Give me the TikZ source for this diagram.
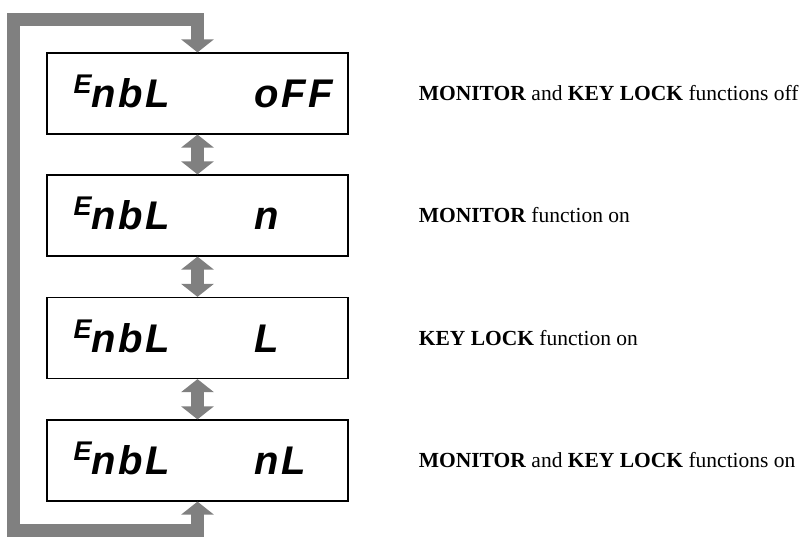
\documentclass[tikz,border=0pt]{standalone}
\usepackage{fontspec}
\setmainfont{Liberation Serif}
\newfontfamily\lcdfont[LetterSpace=6]{Liberation Sans}
\usetikzlibrary{arrows.meta,positioning}

\begin{document}
\begin{tikzpicture}[
x=1pt,y=-1pt,
node distance=70pt,
display/.style={rectangle,draw,line width=1.2pt,minimum width=301pt,minimum height=81pt,inner sep=0pt},
lcd/.style={anchor=base west,inner sep=0pt,font=\lcdfont\bfseries\itshape\fontsize{40}{40}\selectfont},
desc/.style={inner sep=0pt,font=\fontsize{21.5}{24}\selectfont},
flow/.style={draw=black!50,line width=13pt,{Triangle[length=13pt,width=32pt]}-{Triangle[length=13pt,width=32pt]}}
]
\useasboundingbox (0,0) rectangle (804,537);
\newcommand{\enbl}{{\fontsize{27}{27}\selectfont\raisebox{14pt}{E}}nbL}

\node[display] (b1) at (197.5,93.5) {};
\node[display] (b2) at (197.5,215.5) {};
\node[display] (b3) at (197.5,338) {};
\node[display] (b4) at (197.5,460.5) {};

\node[lcd] (n1) at ([xshift=27pt,yshift=-14.5pt]b1.west) {\enbl};
\node[lcd] (v1) at ([xshift=208pt,yshift=-14.5pt]b1.west) {oFF};
\node[lcd] (n2) at ([xshift=27pt,yshift=-14.5pt]b2.west) {\enbl};
\node[lcd] (v2) at ([xshift=208pt,yshift=-14.5pt]b2.west) {n};
\node[lcd] (n3) at ([xshift=27pt,yshift=-14.5pt]b3.west) {\enbl};
\node[lcd] (v3) at ([xshift=208pt,yshift=-14.5pt]b3.west) {L};
\node[lcd] (n4) at ([xshift=27pt,yshift=-14.5pt]b4.west) {\enbl};
\node[lcd] (v4) at ([xshift=208pt,yshift=-14.5pt]b4.west) {nL};

\node[desc,right=of b1] (d1) {\textbf{MONITOR} and \textbf{KEY LOCK} functions off};
\node[desc,right=of b2] (d2) {\textbf{MONITOR} function on};
\node[desc,right=of b3] (d3) {\textbf{KEY LOCK} function on};
\node[desc,right=of b4] (d4) {\textbf{MONITOR} and \textbf{KEY LOCK} functions on};

\coordinate (loopbl) at (13.5,530);
\coordinate (looptl) at (13.5,20);

\draw[flow] (b1.south) -- (b2.north);
\draw[flow] (b2.south) -- (b3.north);
\draw[flow] (b3.south) -- (b4.north);
\draw[flow] (b4.south) |- (loopbl) -- (looptl) -| (b1.north);
\end{tikzpicture}
\end{document}
